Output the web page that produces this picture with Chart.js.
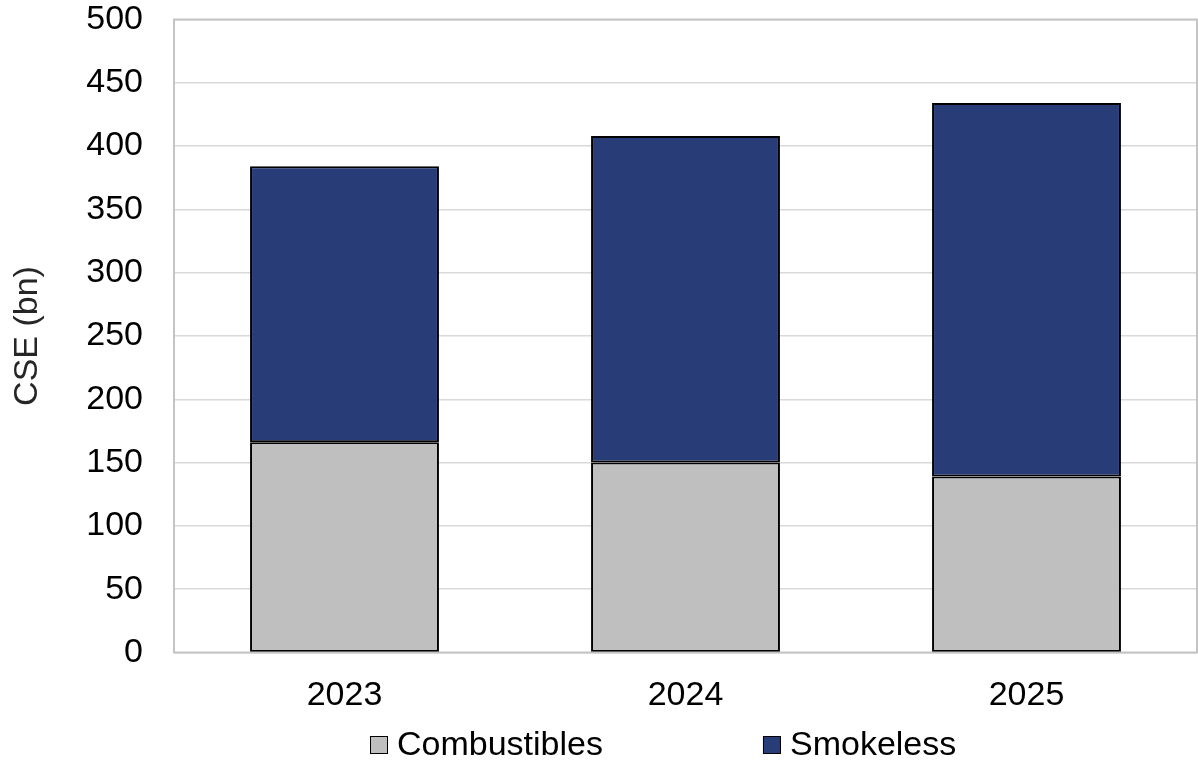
<!DOCTYPE html>
<html>
<head>
<meta charset="utf-8">
<script src="https://cdn.jsdelivr.net/npm/chart.js@4/dist/chart.umd.min.js"></script>
<style>
  html, body { margin: 0; padding: 0; background: #fff; }
  #wrap { width: 1198px; height: 762px; }
</style>
</head>
<body>
<div id="wrap"><canvas id="c" width="1198" height="762"></canvas></div>
<script>
// Cigarette stick equivalents (billions) by year
const years = ['2023', '2024', '2025'];
const combustibles = [166, 150, 139];
const smokeless = [218, 258, 295];
const yTicks = [0, 50, 100, 150, 200, 250, 300, 350, 400, 450, 500];

const FONT = "'Liberation Sans', Arial, sans-serif";
const COMB_COLOR = '#bfbfbf';
const SMOKE_COLOR = '#283c78';

// Grey frame around the plot area
const plotFrame = {
  id: 'plotFrame',
  beforeDatasetsDraw(chart) {
    const { ctx, chartArea: a } = chart;
    ctx.save();
    ctx.strokeStyle = '#c4c4c4';
    ctx.lineWidth = 2;
    ctx.strokeRect(a.left, a.top, a.right - a.left, a.bottom - a.top);
    ctx.restore();
  }
};

// Legend row under the category labels: small boxed swatch, label close beside it
const swatchLegend = {
  id: 'swatchLegend',
  afterDraw(chart) {
    const { ctx } = chart;
    const y = 745;
    const box = 18, gap = 9, itemGap = 160;
    let x = 370;
    ctx.save();
    ctx.font = '34px ' + FONT;
    ctx.textBaseline = 'middle';
    ctx.textAlign = 'left';
    chart.data.datasets.forEach((ds) => {
      ctx.fillStyle = ds.backgroundColor;
      ctx.fillRect(x, y - box / 2, box, box);
      ctx.strokeStyle = '#000';
      ctx.lineWidth = 1;
      ctx.strokeRect(x + 0.5, y - box / 2 + 0.5, box - 1, box - 1);
      ctx.fillStyle = '#000';
      ctx.fillText(ds.label, x + box + gap, y + 1);
      x += box + gap + ctx.measureText(ds.label).width + itemGap;
    });
    ctx.restore();
  }
};

new Chart(document.getElementById('c'), {
  type: 'bar',
  data: {
    labels: years,
    datasets: [
      {
        label: 'Combustibles',
        data: combustibles,
        backgroundColor: COMB_COLOR,
        borderColor: '#000',
        borderWidth: 2,
        borderSkipped: false
      },
      {
        label: 'Smokeless',
        data: smokeless,
        backgroundColor: SMOKE_COLOR,
        borderColor: '#000',
        borderWidth: 2,
        borderSkipped: false
      }
    ]
  },
  options: {
    responsive: false,
    animation: false,
    devicePixelRatio: 1,
    layout: { padding: { left: 7, right: 1, top: 19.5, bottom: 48.5 } },
    datasets: { bar: { barPercentage: 0.554, categoryPercentage: 1 } },
    plugins: {
      legend: { display: false },
      tooltip: { enabled: false }
    },
    scales: {
      x: {
        stacked: true,
        grid: { display: false, drawTicks: false },
        border: { display: false },
        ticks: { color: '#000', font: { family: FONT, size: 34 }, padding: 23 },
        afterFit(scale) {
          scale.height = 61;
          scale.paddingLeft = 0;
          scale.paddingRight = 0;
        }
      },
      y: {
        stacked: true,
        min: 0,
        max: 500,
        afterBuildTicks(scale) { scale.ticks = yTicks.map(v => ({ value: v })); },
        grid: { color: '#d9d9d9', lineWidth: 1.5, drawTicks: false },
        border: { display: false },
        ticks: { color: '#000', font: { family: FONT, size: 34 }, padding: 31 },
        title: {
          display: true,
          text: 'CSE (bn)',
          color: '#262626',
          font: { family: FONT, size: 34 },
          padding: { top: 0, bottom: 8 }
        },
        afterFit(scale) {
          scale.width = 167;
          scale.paddingTop = 0;
          scale.paddingBottom = 0;
        }
      }
    }
  },
  plugins: [plotFrame, swatchLegend]
});
</script>
</body>
</html>
